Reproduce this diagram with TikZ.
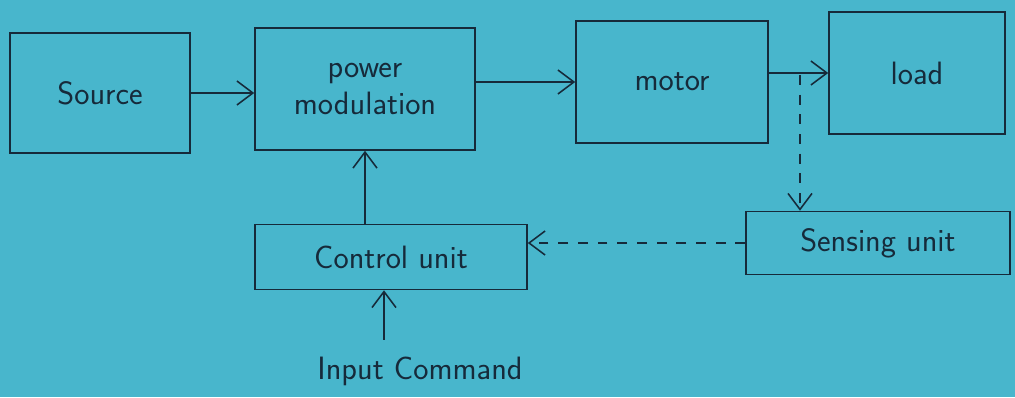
\documentclass[tikz,border=0pt]{standalone}
\usepackage{tikz}
\usetikzlibrary{arrows.meta,positioning,calc}
\definecolor{PaperCyan}{RGB}{72,182,204}
\definecolor{InkBlue}{RGB}{22,42,58}
\tikzset{
  block/.style={draw=InkBlue,line width=1.1pt,align=center,
    font=\sffamily\fontsize{23}{27}\selectfont,text=InkBlue},
  label/.style={font=\sffamily\fontsize{23}{27}\selectfont,text=InkBlue},
  arrow/.style={-{Straight Barb[length=4mm,width=6mm]},line width=1.1pt,InkBlue},
  dasharrow/.style={arrow,dash pattern=on 7pt off 7pt}
}
\begin{document}
\begin{tikzpicture}
  \fill[PaperCyan] (0,0) rectangle (25.375,9.925);
  \useasboundingbox (0,0) rectangle (25.375,9.925);
  % forward path
  \node[block,minimum width=4.5cm,minimum height=3cm] (src) at (2.5,7.6) {Source};
  \node[block,minimum width=5.5cm,minimum height=3.05cm] (pm) at (9.125,7.7)
    {power\\modulation};
  \node[block,minimum width=4.8cm,minimum height=3.05cm] (mot) at (16.8,7.875) {motor};
  \node[block,minimum width=4.4cm,minimum height=3.05cm] (load) at (22.925,8.1) {load};
  % feedback path
  \node[block,minimum width=6.6cm,minimum height=1.575cm] (sens) at (21.95,3.85)
    {Sensing unit};
  \node[block,minimum width=6.8cm,minimum height=1.625cm] (ctrl) at (9.775,3.5)
    {Control unit};
  \node[label] (cmd) at (10.5,0.65) {Input Command};
  \coordinate (tap) at (20.0,8.05);
  % connectors
  \draw[arrow] (src.east) -- (src.east -| pm.west);
  \draw[arrow] (mot.west -| pm.east) -- (mot.west);
  \draw[arrow] (load.west -| mot.east) -- (load.west);
  \draw[dasharrow] (tap) -- (tap |- sens.north);
  \draw[dasharrow] (sens.west) -- (sens.west -| ctrl.east);
  \draw[arrow] (ctrl.north -| pm.south) -- (pm.south);
  \draw[arrow] ([xshift=-0.9cm,yshift=0.3cm]cmd.north) -- ([xshift=-0.9cm]cmd.north |- ctrl.south);
\end{tikzpicture}
\end{document}
